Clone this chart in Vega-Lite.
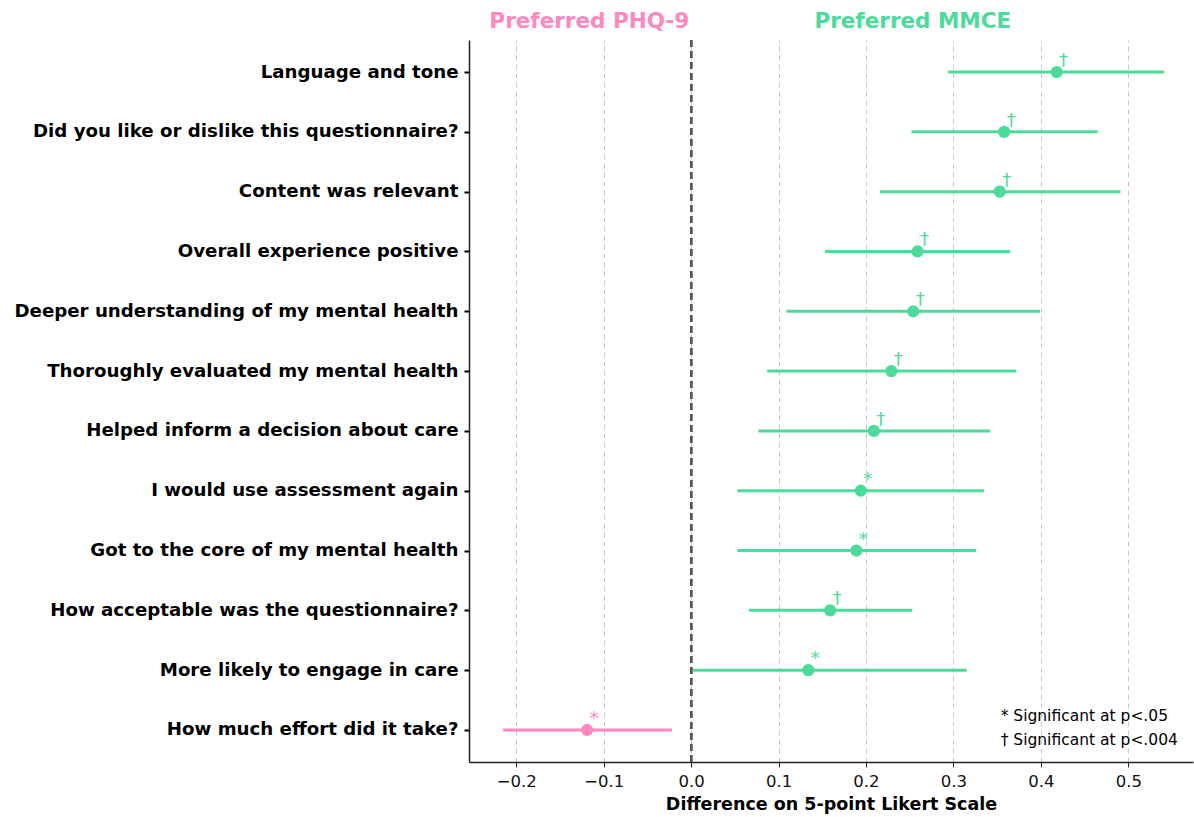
{
  "$schema": "https://vega.github.io/schema/vega-lite/v6.json",
  "autosize": {"type": "none"},
  "padding": {"left": 469, "top": 40, "right": 1, "bottom": 55},
  "width": 724,
  "height": 722,
  "background": "white",
  "config": {
    "font": "DejaVu Sans",
    "view": {"stroke": null}
  },
  "data": {
    "values": [
      {"item": "Language and tone", "est": 0.418, "lo": 0.294, "hi": 0.541, "sig": "†", "group": "MMCE"},
      {"item": "Did you like or dislike this questionnaire?", "est": 0.358, "lo": 0.252, "hi": 0.465, "sig": "†", "group": "MMCE"},
      {"item": "Content was relevant", "est": 0.353, "lo": 0.216, "hi": 0.491, "sig": "†", "group": "MMCE"},
      {"item": "Overall experience positive", "est": 0.259, "lo": 0.153, "hi": 0.365, "sig": "†", "group": "MMCE"},
      {"item": "Deeper understanding of my mental health", "est": 0.254, "lo": 0.109, "hi": 0.399, "sig": "†", "group": "MMCE"},
      {"item": "Thoroughly evaluated my mental health", "est": 0.229, "lo": 0.087, "hi": 0.372, "sig": "†", "group": "MMCE"},
      {"item": "Helped inform a decision about care", "est": 0.209, "lo": 0.077, "hi": 0.342, "sig": "†", "group": "MMCE"},
      {"item": "I would use assessment again", "est": 0.194, "lo": 0.053, "hi": 0.335, "sig": "*", "group": "MMCE"},
      {"item": "Got to the core of my mental health", "est": 0.189, "lo": 0.053, "hi": 0.326, "sig": "*", "group": "MMCE"},
      {"item": "How acceptable was the questionnaire?", "est": 0.159, "lo": 0.066, "hi": 0.253, "sig": "†", "group": "MMCE"},
      {"item": "More likely to engage in care", "est": 0.134, "lo": 0.002, "hi": 0.315, "sig": "*", "group": "MMCE"},
      {"item": "How much effort did it take?", "est": -0.119, "lo": -0.215, "hi": -0.022, "sig": "*", "group": "PHQ-9"}
    ]
  },
  "resolve": {"axis": {"x": "independent", "y": "independent"}},
  "layer": [
    {
      "mark": {"type": "rule", "color": "#555555", "strokeWidth": 2, "strokeDash": [7, 4]},
      "encoding": {
        "x": {
          "datum": 0,
          "type": "quantitative",
          "scale": {"domain": [-0.254, 0.574], "nice": false, "zero": false},
          "axis": {
            "orient": "top",
            "values": [-0.117, 0.253],
            "labelExpr": "datum.value < 0 ? 'Preferred PHQ-9' : 'Preferred MMCE'",
            "labelColor": {"condition": {"test": "datum.value < 0", "value": "#FF88BF"}, "value": "#4CDB9B"},
            "labelFont": "DejaVu Sans",
            "labelFontSize": 21.5,
            "labelFontWeight": "bold",
            "labelPadding": 8,
            "labelOverlap": false,
            "labelBound": false,
            "labelFlush": false,
            "labelLimit": 0,
            "domain": false,
            "ticks": false,
            "grid": false,
            "title": null
          }
        }
      }
    },
    {
      "mark": {"type": "rule", "strokeWidth": 3},
      "encoding": {
        "y": {
          "field": "item",
          "type": "nominal",
          "sort": null,
          "scale": {"type": "point", "padding": 0.535},
          "axis": {
            "title": null,
            "labelFont": "DejaVu Sans",
            "labelFontSize": 18.2,
            "labelFontWeight": "bold",
            "labelColor": "black",
            "labelPadding": 6,
            "labelLimit": 0,
            "domainColor": "#222222",
            "domainWidth": 1.5,
            "tickColor": "black",
            "tickWidth": 2,
            "tickSize": 5,
            "grid": false
          }
        },
        "x": {
          "field": "lo",
          "type": "quantitative",
          "axis": {
            "orient": "bottom",
            "values": [-0.2, -0.1, 0, 0.1, 0.2, 0.3, 0.4, 0.5],
            "format": ".1f",
            "title": "Difference on 5-point Likert Scale",
            "titleFont": "DejaVu Sans",
            "titleFontSize": 17.5,
            "titleFontWeight": "bold",
            "titleColor": "black",
            "titlePadding": 6,
            "labelFont": "DejaVu Sans",
            "labelFontSize": 16.5,
            "labelColor": "#111111",
            "labelPadding": 6,
            "domainColor": "#222222",
            "domainWidth": 1.5,
            "tickColor": "#222222",
            "tickSize": 5,
            "grid": true,
            "gridColor": "#c8c8c8",
            "gridDash": [5, 4],
            "gridWidth": 1
          }
        },
        "x2": {"field": "hi"},
        "color": {
          "field": "group",
          "type": "nominal",
          "scale": {"domain": ["MMCE", "PHQ-9"], "range": ["#4CDB9B", "#FF88BF"]},
          "legend": null
        }
      }
    },
    {
      "mark": {"type": "point", "filled": true, "opacity": 1, "size": 150, "shape": "circle"},
      "encoding": {
        "y": {"field": "item", "type": "nominal", "sort": null, "axis": null},
        "x": {"field": "est", "type": "quantitative", "axis": null},
        "color": {"field": "group", "type": "nominal", "legend": null}
      }
    },
    {
      "mark": {"type": "text", "dx": 7, "dy": -11, "fontSize": 18, "font": "DejaVu Sans"},
      "encoding": {
        "y": {"field": "item", "type": "nominal", "sort": null, "axis": null},
        "x": {"field": "est", "type": "quantitative", "axis": null},
        "text": {"field": "sig"},
        "color": {"field": "group", "type": "nominal", "legend": null}
      }
    },
    {
      "data": {"values": [{"item": "How much effort did it take?", "x": 0.354, "note": ["* Significant at p<.05", "† Significant at p<.004"]}]},
      "mark": {"type": "text", "align": "left", "baseline": "middle", "fontSize": 15.5, "lineHeight": 24, "color": "black", "dy": -14, "font": "DejaVu Sans"},
      "encoding": {
        "y": {"field": "item", "type": "nominal", "sort": null, "axis": null},
        "x": {"field": "x", "type": "quantitative", "axis": null},
        "text": {"field": "note"}
      }
    }
  ]
}
